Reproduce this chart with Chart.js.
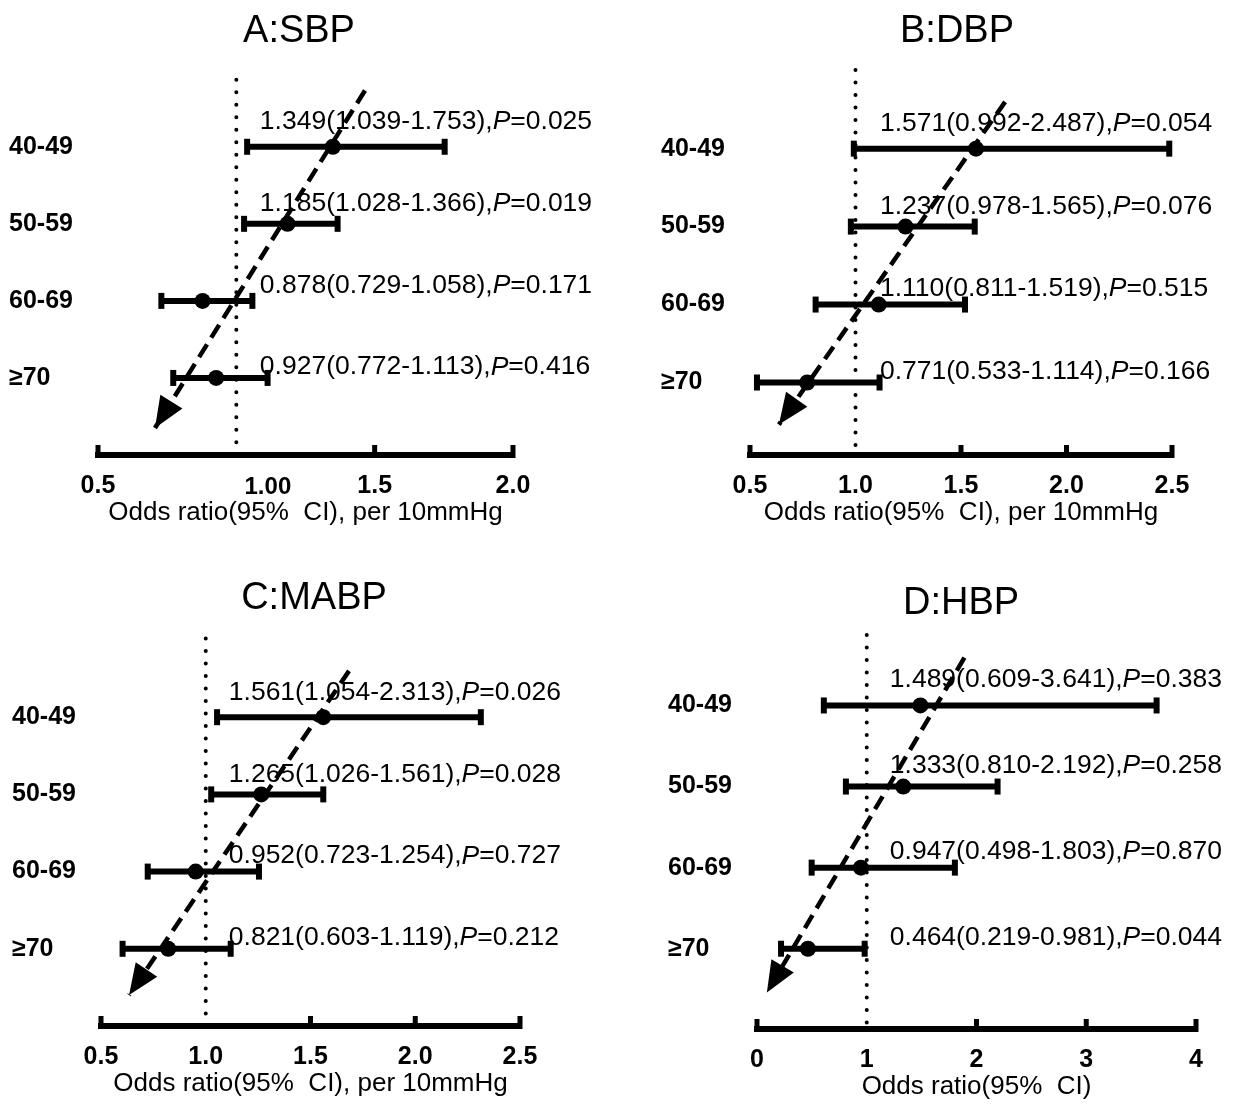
<!DOCTYPE html>
<html>
<head>
<meta charset="utf-8">
<script src="https://cdn.jsdelivr.net/npm/chart.js@4.4.0/dist/chart.umd.min.js"></script>
<style>
  body { margin: 0; background: #fff; }
  #wrap { position: relative; width: 1260px; height: 1105px; overflow: hidden; background: #fff; }
  canvas { position: absolute; }
</style>
</head>
<body>
<div id="wrap">
  <canvas id="chartA" width="630" height="550" style="left:0px;top:0px"></canvas>
  <canvas id="chartB" width="630" height="550" style="left:630px;top:0px"></canvas>
  <canvas id="chartC" width="630" height="550" style="left:0px;top:571px"></canvas>
  <canvas id="chartD" width="630" height="550" style="left:630px;top:574px"></canvas>
</div>
<script>
const ageGroups = ['40-49', '50-59', '60-69', '≥70'];

const sbpOR   = [1.349, 1.185, 0.878, 0.927];
const sbpLow  = [1.039, 1.028, 0.729, 0.772];
const sbpHigh = [1.753, 1.366, 1.058, 1.113];
const sbpP    = [0.025, 0.019, 0.171, 0.416];

const dbpOR   = [1.571, 1.237, 1.110, 0.771];
const dbpLow  = [0.992, 0.978, 0.811, 0.533];
const dbpHigh = [2.487, 1.565, 1.519, 1.114];
const dbpP    = [0.054, 0.076, 0.515, 0.166];

const mabpOR   = [1.561, 1.265, 0.952, 0.821];
const mabpLow  = [1.054, 1.026, 0.723, 0.603];
const mabpHigh = [2.313, 1.561, 1.254, 1.119];
const mabpP    = [0.026, 0.028, 0.727, 0.212];

const hbpOR   = [1.489, 1.333, 0.947, 0.464];
const hbpLow  = [0.609, 0.810, 0.498, 0.219];
const hbpHigh = [3.641, 2.192, 1.803, 0.981];
const hbpP    = [0.383, 0.258, 0.870, 0.044];

// x tick values per panel
const sbpTicks  = [0.5, 1.5, 2.0];
const dbpTicks  = [0.5, 1.0, 1.5, 2.0, 2.5];
const mabpTicks = [0.5, 1.0, 1.5, 2.0, 2.5];
const hbpTicks  = [0, 1, 2, 3, 4];

// dashed trend arrows (x = odds ratio, y = row index), start -> tip
const sbpTrend  = [{ x: 1.465, y: -0.73 }, { x: 0.706, y: 3.65 }];
const dbpTrend  = [{ x: 1.709, y: -0.60 }, { x: 0.637, y: 3.54 }];
const mabpTrend = [{ x: 1.684, y: -0.60 }, { x: 0.634, y: 3.60 }];
const hbpTrend  = [{ x: 1.89,  y: -0.59 }, { x: 0.09,  y: 3.54 }];

const FONT = "'Liberation Sans', Arial, sans-serif";
Chart.defaults.font.family = FONT;
Chart.defaults.color = '#000';

const panels = [
  { id: 'chartA', title: 'A:SBP', titleX: 299, titleY: 32, or: sbpOR, lo: sbpLow, hi: sbpHigh, p: sbpP,
    ticks: sbpTicks, dec: 1, trend: sbpTrend, xMin: 0.5, xMax: 2.0, yMin: -1.23, yMax: 4.0, refTop: -0.87,
    textAt: 1.085, axisTitle: 'Odds ratio(95%  CI), per 10mmHg', padL: 98, padR: 117,
    oddLabel: { text: '1.00', at: 1.114 } },
  { id: 'chartB', title: 'B:DBP', titleX: 327, titleY: 32, or: dbpOR, lo: dbpLow, hi: dbpHigh, p: dbpP,
    ticks: dbpTicks, dec: 1, trend: dbpTrend, xMin: 0.5, xMax: 2.5, yMin: -1.24, yMax: 3.93, refTop: -1.01,
    textAt: 1.116, axisTitle: 'Odds ratio(95%  CI), per 10mmHg', padL: 120, padR: 88 },
  { id: 'chartC', title: 'C:MABP', titleX: 314, titleY: 28, or: mabpOR, lo: mabpLow, hi: mabpHigh, p: mabpP,
    ticks: mabpTicks, dec: 1, trend: mabpTrend, xMin: 0.5, xMax: 2.5, yMin: -1.22, yMax: 4.0, refTop: -1.02,
    textAt: 1.11, axisTitle: 'Odds ratio(95%  CI), per 10mmHg', padL: 101, padR: 110 },
  { id: 'chartD', title: 'D:HBP', titleX: 331, titleY: 30, or: hbpOR, lo: hbpLow, hi: hbpHigh, p: hbpP,
    ticks: hbpTicks, dec: 0, trend: hbpTrend, xMin: 0, xMax: 4, yMin: -0.98, yMax: 3.99, refTop: -0.87,
    textAt: 1.21, axisTitle: 'Odds ratio(95%  CI)', padL: 127, padR: 64 }
];

const forestPlugin = {
  id: 'forest',
  afterDatasetsDraw(chart, args, o) {
    const ctx = chart.ctx;
    const xs = chart.scales.x, ys = chart.scales.y;
    const area = chart.chartArea;
    ctx.save();
    ctx.fillStyle = '#000';
    ctx.strokeStyle = '#000';

    // arrow head on trend line
    const pts = chart.getDatasetMeta(1).data;
    const a = pts[0], b = pts[1];
    const ang = Math.atan2(b.y - a.y, b.x - a.x);
    const L = 31, W = 13;
    const bx = b.x - L * Math.cos(ang), by = b.y - L * Math.sin(ang);
    ctx.beginPath();
    ctx.moveTo(b.x, b.y);
    ctx.lineTo(bx + W * Math.sin(ang), by - W * Math.cos(ang));
    ctx.lineTo(bx - W * Math.sin(ang), by + W * Math.cos(ang));
    ctx.closePath();
    ctx.fill();

    // tick marks pointing up from the axis (none at 1, the dotted line sits there)
    ctx.lineWidth = 5;
    o.ticks.filter(v => v !== 1).forEach(v => {
      const px = xs.getPixelForValue(v);
      ctx.beginPath();
      ctx.moveTo(px, area.bottom + 3);
      ctx.lineTo(px, area.bottom - 10);
      ctx.stroke();
    });

    // title
    ctx.font = '38px ' + FONT;
    ctx.textAlign = 'center';
    ctx.textBaseline = 'middle';
    ctx.fillText(o.title, o.titleX, o.titleY);

    // odd "1.00" label in panel A
    if (o.oddLabel) {
      ctx.font = 'bold 24px ' + FONT;
      ctx.fillText(o.oddLabel.text, xs.getPixelForValue(o.oddLabel.at), area.bottom + 32);
    }

    // row labels
    ctx.font = 'bold 25px ' + FONT;
    ctx.textAlign = 'left';
    ageGroups.forEach((g, i) => ctx.fillText(g, area.left - 89, ys.getPixelForValue(i)));

    // OR (CI), P annotations
    const normal = '26.5px ' + FONT, italic = 'italic 26.5px ' + FONT;
    o.or.forEach((v, i) => {
      let x = xs.getPixelForValue(o.textAt);
      const y = ys.getPixelForValue(i * 1.06 - 0.32);
      const s1 = v.toFixed(3) + '(' + o.lo[i].toFixed(3) + '-' + o.hi[i].toFixed(3) + '),';
      ctx.font = normal; ctx.fillText(s1, x, y); x += ctx.measureText(s1).width;
      ctx.font = italic; ctx.fillText('P', x, y); x += ctx.measureText('P').width;
      ctx.font = normal; ctx.fillText('=' + o.p[i].toFixed(3), x, y);
    });
    ctx.restore();
  }
};

panels.forEach(pn => {
  const datasets = [
    { // reference line at OR = 1
      data: [{ x: 1, y: pn.refTop }, { x: 1, y: pn.yMax }],
      showLine: true, borderColor: '#000', borderWidth: 4, borderDash: [0, 12.5],
      borderCapStyle: 'round', pointRadius: 0, order: 5
    },
    { // dashed trend arrow
      data: pn.trend,
      showLine: true, borderColor: '#000', borderWidth: 4.5, borderDash: [15, 8],
      pointRadius: 0, order: 4
    }
  ];
  pn.or.forEach((v, i) => {
    datasets.push({
      data: [{ x: pn.lo[i], y: i }, { x: pn.hi[i], y: i }],
      showLine: true, borderColor: '#000', borderWidth: 6, pointRadius: 0, order: 3
    });
  });
  datasets.push({ // CI end caps
    data: pn.or.flatMap((v, i) => [{ x: pn.lo[i], y: i }, { x: pn.hi[i], y: i }]),
    pointStyle: 'line', pointRotation: 90, pointRadius: 8, pointBorderWidth: 6,
    pointBorderColor: '#000', order: 2
  });
  datasets.push({ // point estimates
    data: pn.or.map((v, i) => ({ x: v, y: i })),
    pointRadius: 8, pointBackgroundColor: '#000', pointBorderWidth: 0, order: 1
  });
  datasets.forEach(d => { d.clip = false; });

  new Chart(document.getElementById(pn.id), {
    type: 'scatter',
    data: { datasets },
    options: {
      responsive: false,
      animation: false,
      events: [],
      devicePixelRatio: 1,
      layout: { padding: { left: pn.padL, right: pn.padR, top: 52, bottom: 0 } },
      plugins: {
        legend: { display: false },
        tooltip: { enabled: false },
        forest: pn
      },
      scales: {
        x: {
          type: 'linear', min: pn.xMin, max: pn.xMax,
          afterBuildTicks: s => { s.ticks = pn.ticks.map(v => ({ value: v })); },
          afterFit: s => { s.height = 95; },
          grid: { display: false },
          border: { display: true, width: 6, color: '#000' },
          ticks: {
            autoSkip: false, maxRotation: 0, padding: 8, color: '#000',
            font: { size: 25, weight: 'bold' },
            callback: v => Number(v).toFixed(pn.dec)
          },
          title: {
            display: true, text: pn.axisTitle, color: '#000',
            font: { size: 26 }, padding: { top: 0, bottom: 22 }
          }
        },
        y: { type: 'linear', display: false, reverse: true, min: pn.yMin, max: pn.yMax }
      }
    },
    plugins: [forestPlugin]
  });
});
</script>
</body>
</html>
